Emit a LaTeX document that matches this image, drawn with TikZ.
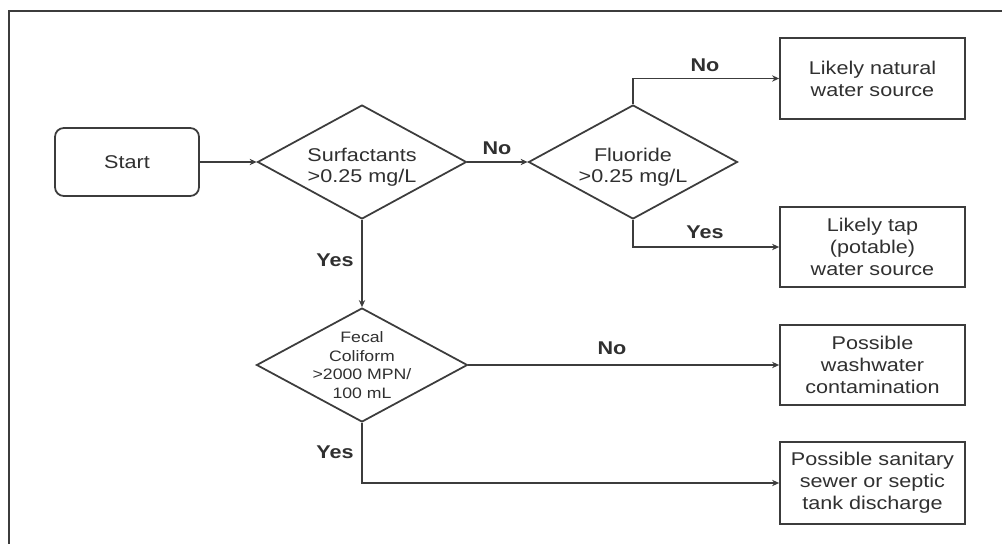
\documentclass[tikz,border=0pt]{standalone}
\usepackage{fontspec}
\setmainfont{Liberation Sans}[FakeStretch=1.17]
\usetikzlibrary{shapes.geometric,arrows.meta}
\definecolor{linegray}{HTML}{3C3C3C}
\definecolor{textgray}{HTML}{303030}
\begin{document}
\begin{tikzpicture}[x=0.02cm,y=-0.02cm,
  line/.style={draw=linegray, line width=1pt},
  arr/.style={line, -{Stealth[length=4pt,width=3.6pt]}},
  box/.style={draw=linegray, line width=1pt, rectangle, minimum width=3.7cm, minimum height=1.62cm,
    align=center, text=textgray, font=\fontsize{10.5}{12.5}\selectfont, inner sep=0pt},
  startbox/.style={box, rounded corners=5pt, minimum width=2.88cm, minimum height=1.36cm},
  decision/.style={draw=linegray, line width=1pt, diamond, minimum width=4.18cm, minimum height=2.28cm, inner sep=0pt},
  dtext/.style={align=center, text=textgray, font=\fontsize{10.5}{11.5}\selectfont},
  lbl/.style={text=textgray, font=\bfseries\fontsize{10.5}{12}\selectfont, inner sep=0pt}
]
\useasboundingbox (0,0) rectangle (1002,544);
\fill[white] (0,0) rectangle (1002,544);
\begin{scope}
\clip (0,0) rectangle (1002,544);
\draw[draw=linegray, line width=1.2pt] (9,11) rectangle (1030,570);
\end{scope}

\node[startbox] (start) at (127,162) {Start};
\node[decision, label={[dtext, yshift=-3pt]center:{Surfactants\\>0.25 mg/L}}] (surf) at (362,162) {};
\node[decision, label={[dtext, yshift=-3pt]center:{Fluoride\\>0.25 mg/L}}] (fluor) at (633,162) {};
\node[decision, minimum width=4.22cm, label={[dtext, font=\fontsize{8.6}{10.5}\selectfont]center:{Fecal\\Coliform\\>2000 MPN/\\100 mL}}] (fecal) at (362,365) {};

\node[box] (nat) at (872.5,78.5) {Likely natural\\water source};
\node[box, minimum height=1.6cm] (tap) at (872.5,247) {Likely tap\\(potable)\\water source};
\node[box, minimum height=1.6cm] (wash) at (872.5,365) {Possible\\washwater\\contamination};
\node[box, minimum height=1.64cm] (san) at (872.5,483) {Possible sanitary\\sewer or septic\\tank discharge};

\draw[arr] (start.east) -- (surf.west);
\draw[arr] (surf.east) -- (fluor.west);
\draw[arr] (fluor.north) |- (nat.west);
\draw[arr] (fluor.south) |- (tap.west);
\draw[arr] (surf.south) -- (fecal.north);
\draw[arr] (fecal.east) -- (wash.west);
\draw[arr] (fecal.south) |- (san.west);

\node[lbl] (l1) at (497,148) {No};
\node[lbl] (l2) at (705,65) {No};
\node[lbl] (l3) at (705,232) {Yes};
\node[lbl] (l4) at (335,260) {Yes};
\node[lbl] (l5) at (612,348) {No};
\node[lbl] (l6) at (335,452) {Yes};
\end{tikzpicture}
\end{document}
